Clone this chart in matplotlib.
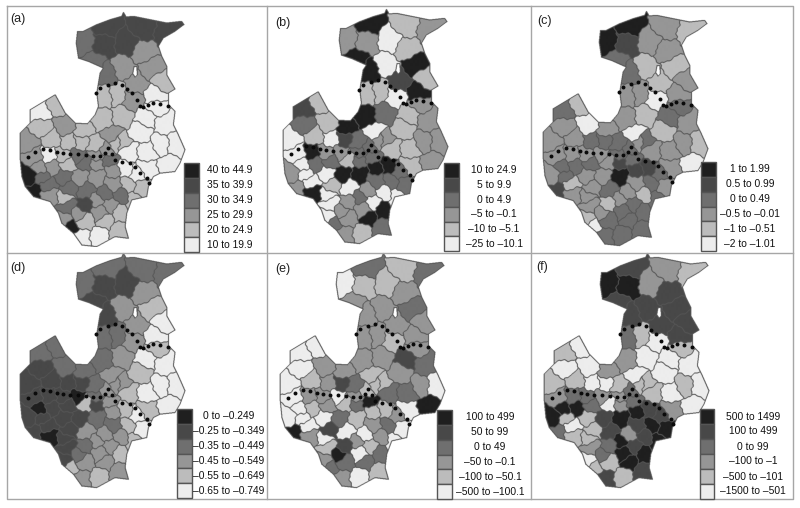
import numpy as np
import matplotlib
matplotlib.use("Agg")
import matplotlib.pyplot as plt
from matplotlib.colors import ListedColormap
from matplotlib.path import Path

plt.rcParams['font.family'] = ['Liberation Sans', 'DejaVu Sans']

# district centres, shared by all six maps
REGION_X = [250,320,310,380,430,500,430,370,455,280,320,485,465,410,315,350,398,470,440,495,310,365,
            420,335,485,525,385,440,365,120,170,125,195,85,155,205,245,285,250,320,350,145,105,190,
            230,290,85,95,120,155,205,255,290,325,375,440,505,130,145,190,240,290,340,340,385,410,
            425,150,205,260,315,365,400,195,205,255,290,330,190,235,255,300,320,360,210,240,300,350]
REGION_Y = [130,78,135,130,85,100,160,205,205,190,225,245,285,255,290,285,300,325,355,370,360,350,
            395,405,435,435,455,460,430,335,315,385,380,430,420,430,425,435,395,455,430,465,470,465,
            470,470,530,580,505,505,495,490,490,480,510,505,495,530,555,530,530,530,515,550,550,525,
            565,585,570,575,585,590,600,590,620,615,600,615,660,640,665,635,665,640,686,710,705,690]

# class of each district, 0 = lightest, 5 = darkest
CLASS_A = [3,4,4,4,4,4,2,2,2,3,3,1,0,2,1,1,2,0,0,0,1,1,0,2,0,0,0,0,1,0,1,1,2,2,1,1,1,1,1,2,1,0,2,1,
           3,2,5,5,2,2,1,3,2,3,0,0,0,3,3,3,2,2,2,2,1,0,1,2,3,3,3,3,1,1,3,4,2,2,2,2,1,2,1,1,5,0,0,1]
CLASS_B = [2,5,2,0,1,2,1,0,5,5,5,1,5,4,1,1,0,2,1,2,5,3,1,0,2,2,1,1,2,4,1,3,1,0,1,0,4,3,5,3,2,5,0,2,
           2,3,2,2,0,3,3,1,3,3,5,1,2,0,0,0,5,5,5,3,3,3,3,5,1,0,2,0,0,0,0,2,3,0,0,2,2,2,5,5,3,2,1,3]
CLASS_C = [5,5,4,2,2,1,2,1,1,3,3,2,2,1,2,2,0,3,3,2,2,1,1,0,2,1,2,2,3,3,1,2,0,2,2,3,3,3,2,3,2,2,2,2,
           2,3,2,4,3,3,3,2,4,3,4,2,0,3,1,2,2,5,4,2,3,3,2,2,2,3,2,1,3,2,2,1,2,3,1,2,3,3,3,3,0,3,3,3]
CLASS_D = [3,3,4,4,3,3,2,2,1,4,4,0,0,2,3,3,2,1,0,0,3,2,1,2,0,0,1,0,2,3,3,4,3,4,4,4,4,3,3,2,2,4,4,4,
           5,3,4,4,5,4,4,1,4,2,1,1,0,4,4,4,4,3,2,3,1,0,0,5,4,2,2,2,1,4,4,3,2,2,4,3,2,2,2,1,1,2,1,2]
CLASS_E = [0,3,1,1,1,3,2,2,3,2,2,2,2,2,2,2,1,2,4,3,2,2,2,1,2,0,3,3,1,0,0,0,2,0,1,2,4,3,2,1,1,2,0,2,
           0,2,0,5,0,1,2,1,3,5,1,0,5,0,0,0,3,1,1,2,3,2,0,2,4,0,0,2,0,0,1,4,2,1,2,5,3,0,3,3,3,2,0,1]
CLASS_F = [5,4,5,2,2,1,4,4,4,4,4,4,4,4,3,1,0,1,0,0,2,0,0,0,1,0,1,0,1,1,0,0,0,1,1,0,0,1,2,3,1,3,2,3,
           2,2,5,3,5,5,3,0,2,3,4,2,0,1,0,1,4,5,5,4,5,4,5,1,1,4,2,4,5,1,2,3,5,4,0,3,1,5,5,5,1,4,1,4]

LEGEND_A = ['40 to 44.9','35 to 39.9','30 to 34.9','25 to 29.9','20 to 24.9','10 to 19.9']
LEGEND_B = ['10 to 24.9','5 to 9.9','0 to 4.9','–5 to –0.1','–10 to –5.1','–25 to –10.1']
LEGEND_C = ['1 to 1.99','0.5 to 0.99','0 to 0.49','–0.5 to –0.01','–1 to –0.51','–2 to –1.01']
LEGEND_D = ['0 to –0.249','–0.25 to –0.349','–0.35 to –0.449','–0.45 to –0.549','–0.55 to –0.649','–0.65 to –0.749']
LEGEND_E = ['100 to 499','50 to 99','0 to 49','–50 to –0.1','–100 to –50.1','–500 to –100.1']
LEGEND_F = ['500 to 1499','100 to 499','0 to 99','–100 to –1','–500 to –101','–1500 to –501']

PANEL_NAMES = ['(a)','(b)','(c)','(d)','(e)','(f)']

# map outline, lake and the two dotted borders, in 3x pixels of the first panel
OUTLINE = [(250,95),(290,75),(330,60),(365,50),(370,38),(378,52),(400,50),(450,60),(500,70),(545,65),(552,75),
           (525,95),(490,115),(475,140),(485,170),(500,200),(500,225),(525,268),(505,280),(505,315),(525,335),
           (520,375),(535,405),(555,450),(540,490),(525,515),(480,520),(460,530),(445,560),(440,590),(395,600),
           (380,640),(375,680),(385,715),(345,710),(290,740),(245,735),(220,700),(185,670),(175,640),(150,605),
           (100,590),(75,560),(65,530),(60,480),(60,400),(90,370),(90,330),(165,285),(195,340),(225,370),
           (262,372),(285,345),(295,320),(290,280),(300,220),(310,205),(265,185),(235,175),(228,130),(232,95)]
LAKE = [(402,200),(410,200),(412,225),(405,232),(398,222)]
BORDER_X = [287,300,325,345,365,382,395,410,420,430,445,460,480,505,
            85,105,130,150,170,190,210,235,258,280,300,315,325,335,345,365,390,405,420,440,447]
BORDER_Y = [278,265,255,250,255,268,280,300,318,320,315,310,312,318,
            470,455,448,450,455,458,462,463,465,468,467,460,445,462,480,485,490,500,520,535,550]

PANELS = [
    dict(cls=CLASS_A, leg=LEGEND_A, dx=0, dy=0, box=(184,163,199,252), tx=230, lab=(18,19)),
    dict(cls=CLASS_B, leg=LEGEND_B, dx=263, dy=-3, box=(444,163,459,251), tx=494, lab=(283,23)),
    dict(cls=CLASS_C, leg=LEGEND_C, dx=523, dy=-1, box=(701,162,716,251), tx=750, lab=(544,21)),
    dict(cls=CLASS_D, leg=LEGEND_D, dx=0, dy=241, box=(177,409,192,498), tx=229, lab=(18,268)),
    dict(cls=CLASS_E, leg=LEGEND_E, dx=260, dy=241, box=(437,410,452,499), tx=490, lab=(283,269)),
    dict(cls=CLASS_F, leg=LEGEND_F, dx=524, dy=241, box=(700,409,714,499), tx=753, lab=(542,267)),
]

GREYS = ['#ededed','#bcbcbc','#969696','#6f6f6f','#484848','#1f1f1f']
LINE = '#555555'
FRAME = '#a6a6a6'

# raster of which district each map pixel belongs to
xs = np.arange(30, 580)
ys = np.arange(20, 760)
xx, yy = np.meshgrid(xs, ys)
wx = xx + 3.0*np.sin(yy/7.0) + 1.5*np.sin(yy/2.7)
wy = yy + 3.0*np.sin(xx/8.0) + 1.5*np.sin(xx/3.1)
pts = np.c_[xx.ravel(), yy.ravel()]
inside = Path(OUTLINE).contains_points(pts).reshape(xx.shape)
inside &= ~Path(LAKE).contains_points(pts).reshape(xx.shape)
rx = np.array(REGION_X)
ry = np.array(REGION_Y)
dist = (wx[..., None]-rx)**2 + (wy[..., None]-ry)**2
labels = dist.argmin(axis=2)

edge = np.zeros(labels.shape, dtype=bool)
edge[:, 1:] |= (labels[:, 1:] != labels[:, :-1]) & inside[:, 1:] & inside[:, :-1]
edge[1:, :] |= (labels[1:, :] != labels[:-1, :]) & inside[1:, :] & inside[:-1, :]
# outer edge of the map
edge[:, 1:] |= inside[:, 1:] != inside[:, :-1]
edge[1:, :] |= inside[1:, :] != inside[:-1, :]
thick = edge.copy()
for sx, sy in [(1,0),(-1,0),(0,1),(0,-1)]:
    thick |= np.roll(np.roll(edge, sx, axis=1), sy, axis=0)

cmap = ListedColormap(GREYS + ['white', LINE])

fig = plt.figure(figsize=(8.0, 5.08), dpi=100)
ax = fig.add_axes([0, 0, 1, 1])

for p in PANELS:
    grid = np.array(p['cls'])[labels].astype(float)
    grid[~inside] = 6
    grid[thick] = 7
    left = p['dx'] + xs[0]/3
    right = p['dx'] + xs[-1]/3
    top = p['dy'] + ys[0]/3
    bottom = p['dy'] + ys[-1]/3
    ax.imshow(grid, cmap=cmap, vmin=-0.5, vmax=7.5, extent=(left, right, bottom, top),
              interpolation='antialiased', interpolation_stage='rgba', zorder=1, aspect='auto')
    ax.scatter(np.array(BORDER_X)/3 + p['dx'], np.array(BORDER_Y)/3 + p['dy'], s=8, c='#0a0a0a',
               linewidths=0, zorder=3)

    x0, y0, x1, y1 = p['box']
    h = (y1-y0)/6
    for i, txt in enumerate(p['leg']):
        ax.fill([x0,x1,x1,x0], [y0+i*h,y0+i*h,y0+(i+1)*h,y0+(i+1)*h], color=GREYS[5-i], ec=LINE, lw=1.0, zorder=4)
        ax.text(p['tx'], y0+(i+0.5)*h, txt, ha='center', va='center', fontsize=7.4, color='#111111', zorder=5)

for p, name in zip(PANELS, PANEL_NAMES):
    ax.text(p['lab'][0], p['lab'][1], name, ha='center', va='center', fontsize=9, color='#222222', zorder=5)

# panel frame
ax.plot([7,793,793,7,7], [6,6,499,499,6], color=FRAME, lw=1.0, zorder=2)
ax.plot([267,267], [6,499], color=FRAME, lw=1.0, zorder=2)
ax.plot([531,531], [6,499], color=FRAME, lw=1.0, zorder=2)
ax.plot([7,793], [253,253], color=FRAME, lw=1.0, zorder=2)

ax.set_xlim(0, 800)
ax.set_ylim(508, 0)
ax.axis('off')
fig.savefig('out.png', dpi=100)
